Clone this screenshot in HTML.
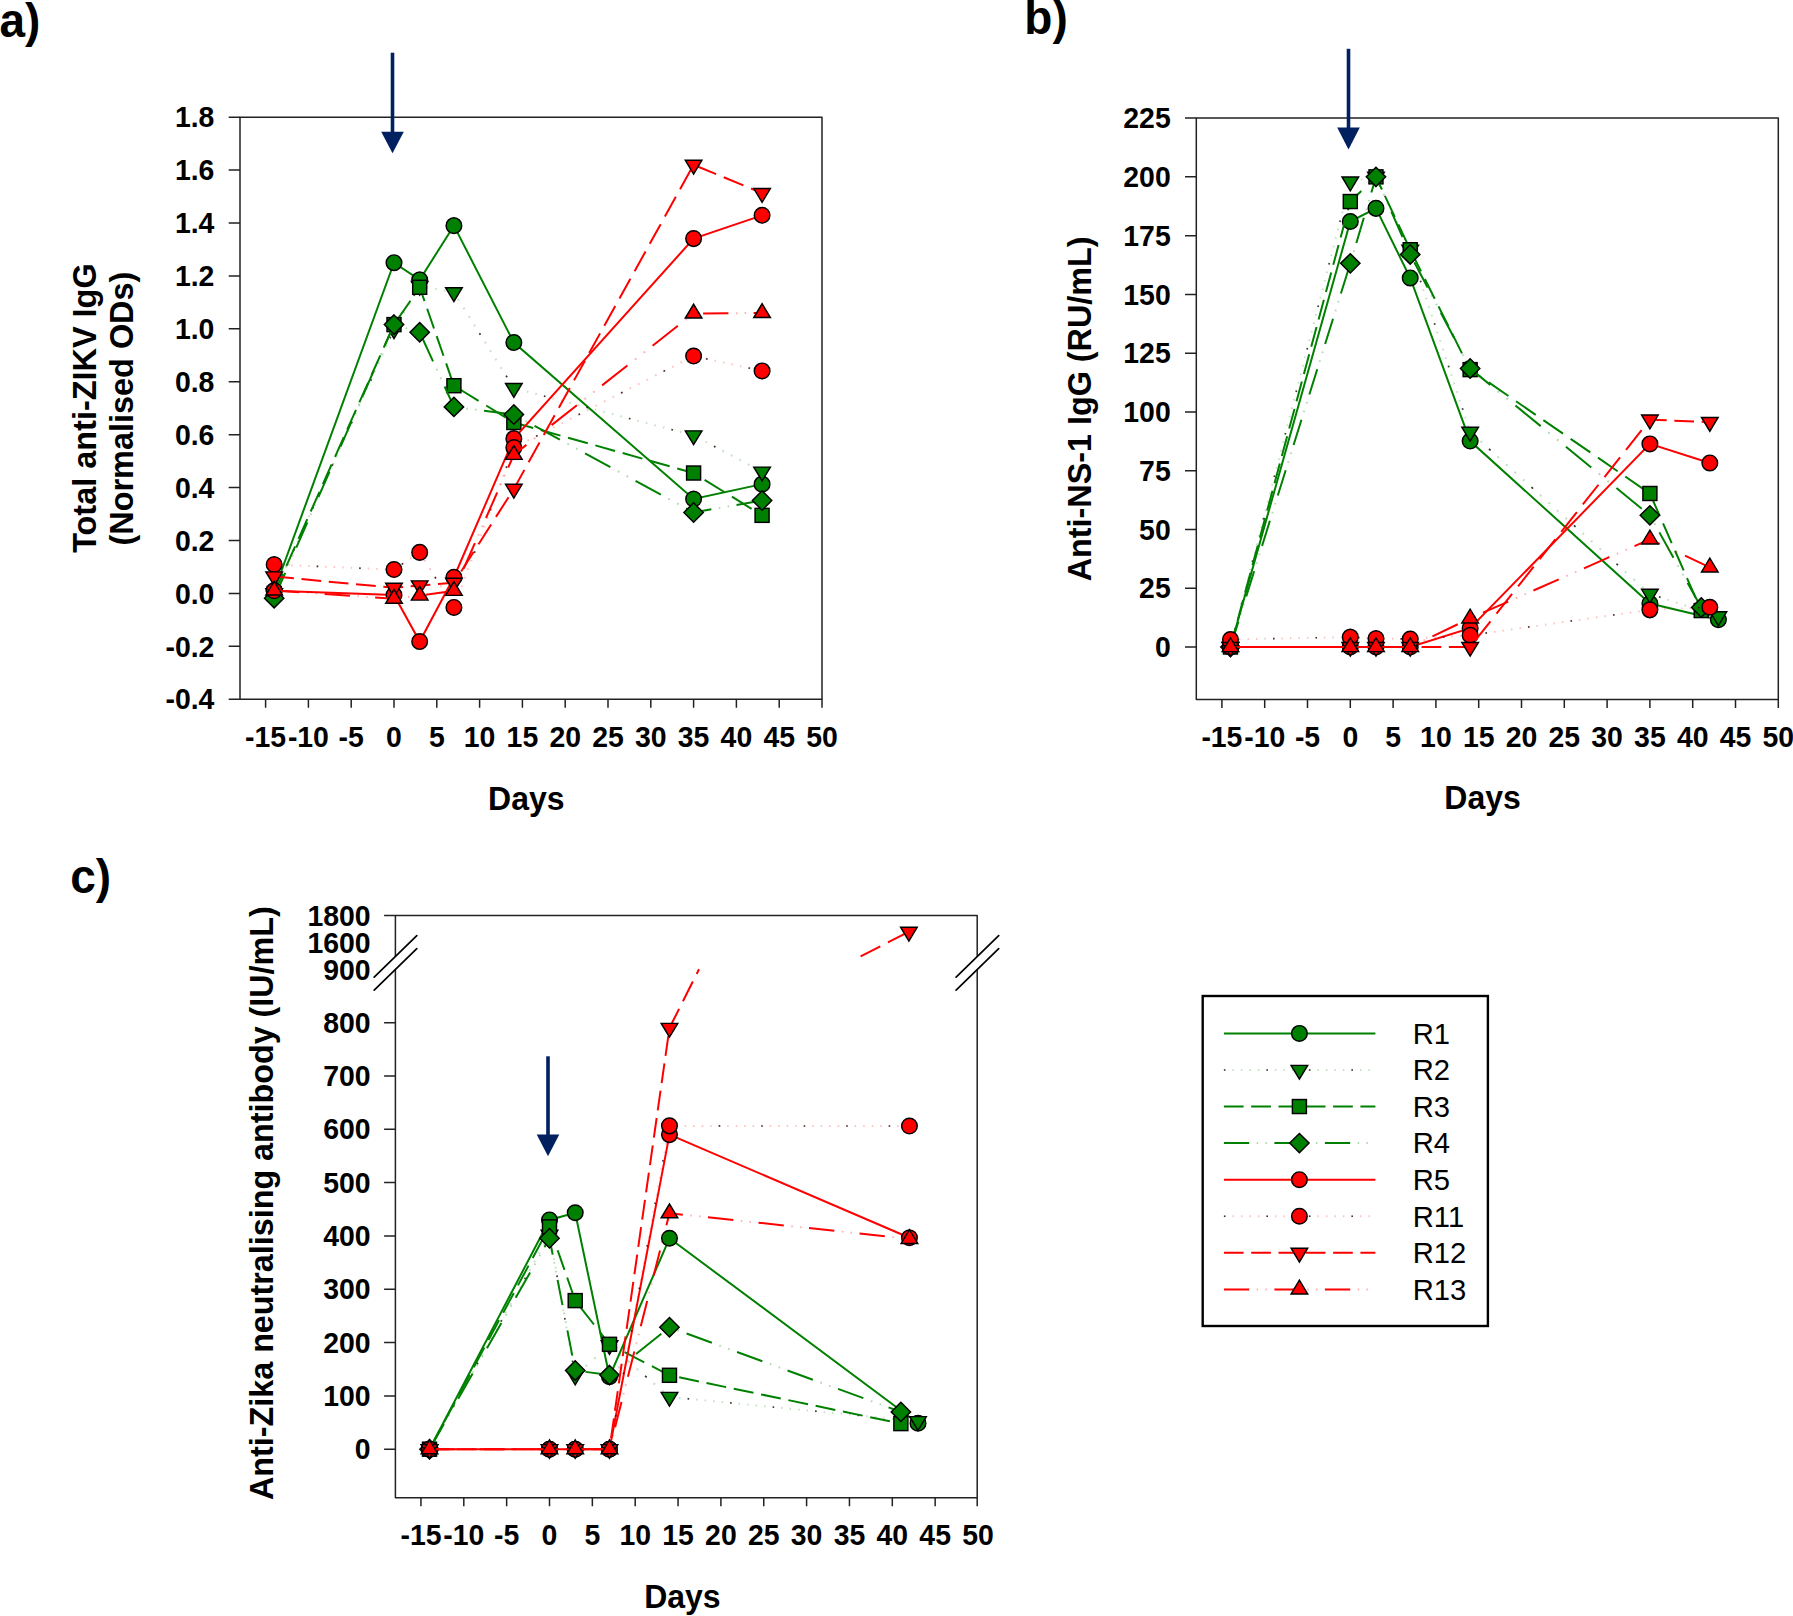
<!DOCTYPE html>
<html lang="en">
<head>
<meta charset="utf-8">
<title>Antibody responses: anti-ZIKV IgG, anti-NS-1 IgG and neutralising antibody</title>
<style>
html,body{margin:0;padding:0;background:#fff;}
body{width:1793px;height:1616px;overflow:hidden;}
svg{display:block;}
svg text{font-family:'Liberation Sans', Arial, Helvetica, sans-serif;fill:#000;}
</style>
</head>
<body>
<svg width="1793" height="1616" viewBox="0 0 1793 1616">
<rect width="1793" height="1616" fill="#fff"/>
<!-- panel a -->
<g>
<rect x="240" y="117.2" width="582" height="582.05" fill="none" stroke="#222" stroke-width="1.5" stroke-linejoin="round"/>
<text transform="translate(265.6 746.85) scale(1 1.04)" font-size="28.4" font-weight="bold" text-anchor="middle">-15</text>
<text transform="translate(308.4 746.85) scale(1 1.04)" font-size="28.4" font-weight="bold" text-anchor="middle">-10</text>
<text transform="translate(351.2 746.85) scale(1 1.04)" font-size="28.4" font-weight="bold" text-anchor="middle">-5</text>
<text transform="translate(394 746.85) scale(1 1.04)" font-size="28.4" font-weight="bold" text-anchor="middle">0</text>
<text transform="translate(436.8 746.85) scale(1 1.04)" font-size="28.4" font-weight="bold" text-anchor="middle">5</text>
<text transform="translate(479.6 746.85) scale(1 1.04)" font-size="28.4" font-weight="bold" text-anchor="middle">10</text>
<text transform="translate(522.4 746.85) scale(1 1.04)" font-size="28.4" font-weight="bold" text-anchor="middle">15</text>
<text transform="translate(565.2 746.85) scale(1 1.04)" font-size="28.4" font-weight="bold" text-anchor="middle">20</text>
<text transform="translate(608 746.85) scale(1 1.04)" font-size="28.4" font-weight="bold" text-anchor="middle">25</text>
<text transform="translate(650.8 746.85) scale(1 1.04)" font-size="28.4" font-weight="bold" text-anchor="middle">30</text>
<text transform="translate(693.6 746.85) scale(1 1.04)" font-size="28.4" font-weight="bold" text-anchor="middle">35</text>
<text transform="translate(736.4 746.85) scale(1 1.04)" font-size="28.4" font-weight="bold" text-anchor="middle">40</text>
<text transform="translate(779.2 746.85) scale(1 1.04)" font-size="28.4" font-weight="bold" text-anchor="middle">45</text>
<text transform="translate(822 746.85) scale(1 1.04)" font-size="28.4" font-weight="bold" text-anchor="middle">50</text>
<text transform="translate(214.4 709.43) scale(1 1.04)" font-size="28.4" font-weight="bold" text-anchor="end">-0.4</text>
<text transform="translate(214.4 656.51) scale(1 1.04)" font-size="28.4" font-weight="bold" text-anchor="end">-0.2</text>
<text transform="translate(214.4 603.6) scale(1 1.04)" font-size="28.4" font-weight="bold" text-anchor="end">0.0</text>
<text transform="translate(214.4 550.69) scale(1 1.04)" font-size="28.4" font-weight="bold" text-anchor="end">0.2</text>
<text transform="translate(214.4 497.77) scale(1 1.04)" font-size="28.4" font-weight="bold" text-anchor="end">0.4</text>
<text transform="translate(214.4 444.86) scale(1 1.04)" font-size="28.4" font-weight="bold" text-anchor="end">0.6</text>
<text transform="translate(214.4 391.94) scale(1 1.04)" font-size="28.4" font-weight="bold" text-anchor="end">0.8</text>
<text transform="translate(214.4 339.03) scale(1 1.04)" font-size="28.4" font-weight="bold" text-anchor="end">1.0</text>
<text transform="translate(214.4 286.12) scale(1 1.04)" font-size="28.4" font-weight="bold" text-anchor="end">1.2</text>
<text transform="translate(214.4 233.2) scale(1 1.04)" font-size="28.4" font-weight="bold" text-anchor="end">1.4</text>
<text transform="translate(214.4 180.29) scale(1 1.04)" font-size="28.4" font-weight="bold" text-anchor="end">1.6</text>
<text transform="translate(214.4 127.37) scale(1 1.04)" font-size="28.4" font-weight="bold" text-anchor="end">1.8</text>
<path d="M265.6 699.25V707.75M308.4 699.25V707.75M351.2 699.25V707.75M394 699.25V707.75M436.8 699.25V707.75M479.6 699.25V707.75M522.4 699.25V707.75M565.2 699.25V707.75M608 699.25V707.75M650.8 699.25V707.75M693.6 699.25V707.75M736.4 699.25V707.75M779.2 699.25V707.75M822 699.25V707.75M228.7 699.23H240M228.7 646.31H240M228.7 593.4H240M228.7 540.49H240M228.7 487.57H240M228.7 434.66H240M228.7 381.74H240M228.7 328.83H240M228.7 275.92H240M228.7 223H240M228.7 170.09H240M228.7 117.17H240" fill="none" stroke="#222" stroke-width="1.5"/>
<path d="M274.16 590.75 L394 262.69 L419.68 279.88 L453.92 225.65 L513.84 342.59 L693.6 498.95 L762.08 484.13" fill="none" stroke="#008000" stroke-width="2"/>
<circle cx="274.16" cy="590.75" r="7.8" fill="#008000" stroke="#000" stroke-width="1.45"/>
<circle cx="394" cy="262.69" r="7.8" fill="#008000" stroke="#000" stroke-width="1.45"/>
<circle cx="419.68" cy="279.88" r="7.8" fill="#008000" stroke="#000" stroke-width="1.45"/>
<circle cx="453.92" cy="225.65" r="7.8" fill="#008000" stroke="#000" stroke-width="1.45"/>
<circle cx="513.84" cy="342.59" r="7.8" fill="#008000" stroke="#000" stroke-width="1.45"/>
<circle cx="693.6" cy="498.95" r="7.8" fill="#008000" stroke="#000" stroke-width="1.45"/>
<circle cx="762.08" cy="484.13" r="7.8" fill="#008000" stroke="#000" stroke-width="1.45"/>
<line x1="274.16" y1="593.4" x2="394" y2="329.36" stroke="#008000" stroke-opacity="0.24" stroke-width="2" stroke-dasharray="1.65 7.69" stroke-dashoffset="0"/>
<line x1="274.16" y1="593.4" x2="394" y2="329.36" stroke="#2a1818" stroke-opacity="0.85" stroke-width="1.6" stroke-dasharray="1.76 44.92" stroke-dashoffset="0"/>
<line x1="394" y1="329.36" x2="419.68" y2="285.97" stroke="#008000" stroke-opacity="0.24" stroke-width="2" stroke-dasharray="1.74 8.13" stroke-dashoffset="0.63"/>
<line x1="394" y1="329.36" x2="419.68" y2="285.97" stroke="#2a1818" stroke-opacity="0.85" stroke-width="1.6" stroke-dasharray="1.86 47.53" stroke-dashoffset="10.51"/>
<line x1="419.68" y1="285.97" x2="453.92" y2="292.32" stroke="#008000" stroke-opacity="0.24" stroke-width="2" stroke-dasharray="1.53 7.12" stroke-dashoffset="1.45"/>
<line x1="419.68" y1="285.97" x2="453.92" y2="292.32" stroke="#2a1818" stroke-opacity="0.85" stroke-width="1.6" stroke-dasharray="1.63 41.6" stroke-dashoffset="10.1"/>
<line x1="453.92" y1="292.32" x2="513.84" y2="388.09" stroke="#008000" stroke-opacity="0.24" stroke-width="2" stroke-dasharray="1.77 8.26" stroke-dashoffset="1.97"/>
<line x1="453.92" y1="292.32" x2="513.84" y2="388.09" stroke="#2a1818" stroke-opacity="0.85" stroke-width="1.6" stroke-dasharray="1.89 48.25" stroke-dashoffset="1.97"/>
<line x1="513.84" y1="388.09" x2="693.6" y2="435.45" stroke="#008000" stroke-opacity="0.24" stroke-width="2" stroke-dasharray="1.55 7.24" stroke-dashoffset="4.08"/>
<line x1="513.84" y1="388.09" x2="693.6" y2="435.45" stroke="#2a1818" stroke-opacity="0.85" stroke-width="1.6" stroke-dasharray="1.65 42.3" stroke-dashoffset="12.87"/>
<line x1="693.6" y1="435.45" x2="762.08" y2="471.7" stroke="#008000" stroke-opacity="0.24" stroke-width="2" stroke-dasharray="1.7 7.92" stroke-dashoffset="5.89"/>
<line x1="693.6" y1="435.45" x2="762.08" y2="471.7" stroke="#2a1818" stroke-opacity="0.85" stroke-width="1.6" stroke-dasharray="1.81 46.28" stroke-dashoffset="25.12"/>
<path d="M265.86 588.8L282.46 588.8L274.16 602.6Z" fill="#008000" stroke="#000" stroke-width="1.45"/>
<path d="M385.7 324.76L402.3 324.76L394 338.56Z" fill="#008000" stroke="#000" stroke-width="1.45"/>
<path d="M411.38 281.37L427.98 281.37L419.68 295.17Z" fill="#008000" stroke="#000" stroke-width="1.45"/>
<path d="M445.62 287.72L462.22 287.72L453.92 301.52Z" fill="#008000" stroke="#000" stroke-width="1.45"/>
<path d="M505.54 383.49L522.14 383.49L513.84 397.29Z" fill="#008000" stroke="#000" stroke-width="1.45"/>
<path d="M685.3 430.85L701.9 430.85L693.6 444.65Z" fill="#008000" stroke="#000" stroke-width="1.45"/>
<path d="M753.78 467.1L770.38 467.1L762.08 480.9Z" fill="#008000" stroke="#000" stroke-width="1.45"/>
<line x1="274.16" y1="593.4" x2="394" y2="324.6" stroke="#008000" stroke-width="2" stroke-dasharray="21.57 8.32" stroke-dashoffset="0"/>
<line x1="394" y1="324.6" x2="419.68" y2="287.29" stroke="#008000" stroke-width="2" stroke-dasharray="23.92 9.23" stroke-dashoffset="28.05"/>
<line x1="419.68" y1="287.29" x2="453.92" y2="385.71" stroke="#008000" stroke-width="2" stroke-dasharray="20.86 8.05" stroke-dashoffset="6.15"/>
<line x1="453.92" y1="385.71" x2="513.84" y2="422.49" stroke="#008000" stroke-width="2" stroke-dasharray="23.11 8.92" stroke-dashoffset="26.2"/>
<line x1="513.84" y1="422.49" x2="693.6" y2="473.02" stroke="#008000" stroke-width="2" stroke-dasharray="20.46 7.89" stroke-dashoffset="0.36"/>
<line x1="693.6" y1="473.02" x2="762.08" y2="515.35" stroke="#008000" stroke-width="2" stroke-dasharray="23.16 8.93" stroke-dashoffset="19.17"/>
<rect x="267.16" y="586.4" width="14" height="14" fill="#008000" stroke="#000" stroke-width="1.45"/>
<rect x="387" y="317.6" width="14" height="14" fill="#008000" stroke="#000" stroke-width="1.45"/>
<rect x="412.68" y="280.29" width="14" height="14" fill="#008000" stroke="#000" stroke-width="1.45"/>
<rect x="446.92" y="378.71" width="14" height="14" fill="#008000" stroke="#000" stroke-width="1.45"/>
<rect x="506.84" y="415.49" width="14" height="14" fill="#008000" stroke="#000" stroke-width="1.45"/>
<rect x="686.6" y="466.02" width="14" height="14" fill="#008000" stroke="#000" stroke-width="1.45"/>
<rect x="755.08" y="508.35" width="14" height="14" fill="#008000" stroke="#000" stroke-width="1.45"/>
<line x1="274.16" y1="598.16" x2="394" y2="324.6" stroke="#008000" stroke-width="2" stroke-dasharray="27.62 27.51" stroke-dashoffset="0"/>
<line x1="274.16" y1="598.16" x2="394" y2="324.6" stroke="#008000" stroke-opacity="0.3" stroke-width="2" stroke-dasharray="0 35.81 1.64 7.86 1.64 8.19" stroke-dashoffset="0"/>
<line x1="394" y1="324.6" x2="419.68" y2="332.27" stroke="#008000" stroke-width="2" stroke-dasharray="26.41 26.3" stroke-dashoffset="21.99"/>
<line x1="394" y1="324.6" x2="419.68" y2="332.27" stroke="#008000" stroke-opacity="0.3" stroke-width="2" stroke-dasharray="0 34.23 1.57 7.51 1.57 7.83" stroke-dashoffset="21.99"/>
<line x1="419.68" y1="332.27" x2="453.92" y2="406.88" stroke="#008000" stroke-width="2" stroke-dasharray="27.84 27.73" stroke-dashoffset="51.43"/>
<line x1="419.68" y1="332.27" x2="453.92" y2="406.88" stroke="#008000" stroke-opacity="0.3" stroke-width="2" stroke-dasharray="0 36.09 1.65 7.92 1.65 8.25" stroke-dashoffset="51.43"/>
<line x1="453.92" y1="406.88" x2="513.84" y2="414.55" stroke="#008000" stroke-width="2" stroke-dasharray="25.51 25.41" stroke-dashoffset="20.52"/>
<line x1="453.92" y1="406.88" x2="513.84" y2="414.55" stroke="#008000" stroke-opacity="0.3" stroke-width="2" stroke-dasharray="0 33.07 1.51 7.26 1.51 7.56" stroke-dashoffset="20.52"/>
<line x1="513.84" y1="414.55" x2="693.6" y2="512.44" stroke="#008000" stroke-width="2" stroke-dasharray="28.81 28.69" stroke-dashoffset="33.9"/>
<line x1="513.84" y1="414.55" x2="693.6" y2="512.44" stroke="#008000" stroke-opacity="0.3" stroke-width="2" stroke-dasharray="0 37.35 1.71 8.2 1.71 8.54" stroke-dashoffset="33.9"/>
<line x1="693.6" y1="512.44" x2="762.08" y2="500.54" stroke="#008000" stroke-width="2" stroke-dasharray="25.68 25.58" stroke-dashoffset="7.65"/>
<line x1="693.6" y1="512.44" x2="762.08" y2="500.54" stroke="#008000" stroke-opacity="0.3" stroke-width="2" stroke-dasharray="0 33.29 1.52 7.31 1.52 7.61" stroke-dashoffset="7.65"/>
<path d="M274.16 588.46L283.86 598.16L274.16 607.86L264.46 598.16Z" fill="#008000" stroke="#000" stroke-width="1.45"/>
<path d="M394 314.9L403.7 324.6L394 334.3L384.3 324.6Z" fill="#008000" stroke="#000" stroke-width="1.45"/>
<path d="M419.68 322.57L429.38 332.27L419.68 341.97L409.98 332.27Z" fill="#008000" stroke="#000" stroke-width="1.45"/>
<path d="M453.92 397.18L463.62 406.88L453.92 416.58L444.22 406.88Z" fill="#008000" stroke="#000" stroke-width="1.45"/>
<path d="M513.84 404.85L523.54 414.55L513.84 424.25L504.14 414.55Z" fill="#008000" stroke="#000" stroke-width="1.45"/>
<path d="M693.6 502.74L703.3 512.44L693.6 522.14L683.9 512.44Z" fill="#008000" stroke="#000" stroke-width="1.45"/>
<path d="M762.08 490.84L771.78 500.54L762.08 510.24L752.38 500.54Z" fill="#008000" stroke="#000" stroke-width="1.45"/>
<path d="M274.16 590.75 L394 594.99 L419.68 641.55 L453.92 577.26 L513.84 438.63 L693.6 238.61 L762.08 215.33" fill="none" stroke="#ff0000" stroke-width="2"/>
<circle cx="274.16" cy="590.75" r="7.8" fill="#ff0000" stroke="#000" stroke-width="1.45"/>
<circle cx="394" cy="594.99" r="7.8" fill="#ff0000" stroke="#000" stroke-width="1.45"/>
<circle cx="419.68" cy="641.55" r="7.8" fill="#ff0000" stroke="#000" stroke-width="1.45"/>
<circle cx="453.92" cy="577.26" r="7.8" fill="#ff0000" stroke="#000" stroke-width="1.45"/>
<circle cx="513.84" cy="438.63" r="7.8" fill="#ff0000" stroke="#000" stroke-width="1.45"/>
<circle cx="693.6" cy="238.61" r="7.8" fill="#ff0000" stroke="#000" stroke-width="1.45"/>
<circle cx="762.08" cy="215.33" r="7.8" fill="#ff0000" stroke="#000" stroke-width="1.45"/>
<line x1="274.16" y1="564.56" x2="394" y2="569.59" stroke="#ff0000" stroke-opacity="0.24" stroke-width="2" stroke-dasharray="1.5 7.01" stroke-dashoffset="0"/>
<line x1="274.16" y1="564.56" x2="394" y2="569.59" stroke="#2a1818" stroke-opacity="0.85" stroke-width="1.6" stroke-dasharray="1.6 40.94" stroke-dashoffset="0"/>
<line x1="394" y1="569.59" x2="419.68" y2="552.39" stroke="#ff0000" stroke-opacity="0.24" stroke-width="2" stroke-dasharray="1.81 8.42" stroke-dashoffset="1.01"/>
<line x1="394" y1="569.59" x2="419.68" y2="552.39" stroke="#2a1818" stroke-opacity="0.85" stroke-width="1.6" stroke-dasharray="1.93 49.22" stroke-dashoffset="41.93"/>
<line x1="419.68" y1="552.39" x2="453.92" y2="607.42" stroke="#ff0000" stroke-opacity="0.24" stroke-width="2" stroke-dasharray="1.77 8.24" stroke-dashoffset="1.2"/>
<line x1="419.68" y1="552.39" x2="453.92" y2="607.42" stroke="#2a1818" stroke-opacity="0.85" stroke-width="1.6" stroke-dasharray="1.88 48.17" stroke-dashoffset="21.22"/>
<line x1="453.92" y1="607.42" x2="513.84" y2="447.62" stroke="#ff0000" stroke-opacity="0.24" stroke-width="2" stroke-dasharray="1.6 7.48" stroke-dashoffset="5.39"/>
<line x1="453.92" y1="607.42" x2="513.84" y2="447.62" stroke="#2a1818" stroke-opacity="0.85" stroke-width="1.6" stroke-dasharray="1.71 43.68" stroke-dashoffset="32.63"/>
<line x1="513.84" y1="447.62" x2="693.6" y2="356.08" stroke="#ff0000" stroke-opacity="0.24" stroke-width="2" stroke-dasharray="1.68 7.86" stroke-dashoffset="3.76"/>
<line x1="513.84" y1="447.62" x2="693.6" y2="356.08" stroke="#2a1818" stroke-opacity="0.85" stroke-width="1.6" stroke-dasharray="1.8 45.9" stroke-dashoffset="22.84"/>
<line x1="693.6" y1="356.08" x2="762.08" y2="370.9" stroke="#ff0000" stroke-opacity="0.24" stroke-width="2" stroke-dasharray="1.53 7.16" stroke-dashoffset="4.72"/>
<line x1="693.6" y1="356.08" x2="762.08" y2="370.9" stroke="#2a1818" stroke-opacity="0.85" stroke-width="1.6" stroke-dasharray="1.64 41.85" stroke-dashoffset="30.81"/>
<circle cx="274.16" cy="564.56" r="7.8" fill="#ff0000" stroke="#000" stroke-width="1.45"/>
<circle cx="394" cy="569.59" r="7.8" fill="#ff0000" stroke="#000" stroke-width="1.45"/>
<circle cx="419.68" cy="552.39" r="7.8" fill="#ff0000" stroke="#000" stroke-width="1.45"/>
<circle cx="453.92" cy="607.42" r="7.8" fill="#ff0000" stroke="#000" stroke-width="1.45"/>
<circle cx="513.84" cy="447.62" r="7.8" fill="#ff0000" stroke="#000" stroke-width="1.45"/>
<circle cx="693.6" cy="356.08" r="7.8" fill="#ff0000" stroke="#000" stroke-width="1.45"/>
<circle cx="762.08" cy="370.9" r="7.8" fill="#ff0000" stroke="#000" stroke-width="1.45"/>
<line x1="274.16" y1="576.47" x2="394" y2="587.84" stroke="#ff0000" stroke-width="2" stroke-dasharray="19.79 7.63" stroke-dashoffset="0"/>
<line x1="394" y1="587.84" x2="419.68" y2="585.46" stroke="#ff0000" stroke-width="2" stroke-dasharray="19.78 7.63" stroke-dashoffset="10.69"/>
<line x1="419.68" y1="585.46" x2="453.92" y2="582.82" stroke="#ff0000" stroke-width="2" stroke-dasharray="19.76 7.62" stroke-dashoffset="9.05"/>
<line x1="453.92" y1="582.82" x2="513.84" y2="488.89" stroke="#ff0000" stroke-width="2" stroke-dasharray="23.37 9.01" stroke-dashoffset="18.93"/>
<line x1="513.84" y1="488.89" x2="693.6" y2="164.8" stroke="#ff0000" stroke-width="2" stroke-dasharray="22.53 8.69" stroke-dashoffset="0.78"/>
<line x1="693.6" y1="164.8" x2="762.08" y2="193.11" stroke="#ff0000" stroke-width="2" stroke-dasharray="21.32 8.22" stroke-dashoffset="26.49"/>
<path d="M265.86 571.87L282.46 571.87L274.16 585.67Z" fill="#ff0000" stroke="#000" stroke-width="1.45"/>
<path d="M385.7 583.24L402.3 583.24L394 597.04Z" fill="#ff0000" stroke="#000" stroke-width="1.45"/>
<path d="M411.38 580.86L427.98 580.86L419.68 594.66Z" fill="#ff0000" stroke="#000" stroke-width="1.45"/>
<path d="M445.62 578.22L462.22 578.22L453.92 592.02Z" fill="#ff0000" stroke="#000" stroke-width="1.45"/>
<path d="M505.54 484.29L522.14 484.29L513.84 498.09Z" fill="#ff0000" stroke="#000" stroke-width="1.45"/>
<path d="M685.3 160.2L701.9 160.2L693.6 174Z" fill="#ff0000" stroke="#000" stroke-width="1.45"/>
<path d="M753.78 188.51L770.38 188.51L762.08 202.31Z" fill="#ff0000" stroke="#000" stroke-width="1.45"/>
<line x1="274.16" y1="590.49" x2="394" y2="598.69" stroke="#ff0000" stroke-width="2" stroke-dasharray="25.36 25.26" stroke-dashoffset="0"/>
<line x1="274.16" y1="590.49" x2="394" y2="598.69" stroke="#ff0000" stroke-opacity="0.3" stroke-width="2" stroke-dasharray="0 32.88 1.5 7.22 1.5 7.52" stroke-dashoffset="0"/>
<line x1="394" y1="598.69" x2="419.68" y2="595.52" stroke="#ff0000" stroke-width="2" stroke-dasharray="25.49 25.39" stroke-dashoffset="18.98"/>
<line x1="394" y1="598.69" x2="419.68" y2="595.52" stroke="#ff0000" stroke-opacity="0.3" stroke-width="2" stroke-dasharray="0 33.05 1.51 7.25 1.51 7.56" stroke-dashoffset="18.98"/>
<line x1="419.68" y1="595.52" x2="453.92" y2="590.75" stroke="#ff0000" stroke-width="2" stroke-dasharray="25.54 25.44" stroke-dashoffset="44.95"/>
<line x1="419.68" y1="595.52" x2="453.92" y2="590.75" stroke="#ff0000" stroke-opacity="0.3" stroke-width="2" stroke-dasharray="0 33.12 1.51 7.27 1.51 7.57" stroke-dashoffset="44.95"/>
<line x1="453.92" y1="590.75" x2="513.84" y2="454.77" stroke="#ff0000" stroke-width="2" stroke-dasharray="27.65 27.54" stroke-dashoffset="30.88"/>
<line x1="453.92" y1="590.75" x2="513.84" y2="454.77" stroke="#ff0000" stroke-opacity="0.3" stroke-width="2" stroke-dasharray="0 35.84 1.64 7.87 1.64 8.2" stroke-dashoffset="30.88"/>
<line x1="513.84" y1="454.77" x2="693.6" y2="313.48" stroke="#ff0000" stroke-width="2" stroke-dasharray="32.18 32.05" stroke-dashoffset="16.22"/>
<line x1="513.84" y1="454.77" x2="693.6" y2="313.48" stroke="#ff0000" stroke-opacity="0.3" stroke-width="2" stroke-dasharray="0 41.72 1.91 9.16 1.91 9.54" stroke-dashoffset="16.22"/>
<line x1="693.6" y1="313.48" x2="762.08" y2="312.96" stroke="#ff0000" stroke-width="2" stroke-dasharray="25.3 25.2" stroke-dashoffset="41.01"/>
<line x1="693.6" y1="313.48" x2="762.08" y2="312.96" stroke="#ff0000" stroke-opacity="0.3" stroke-width="2" stroke-dasharray="0 32.8 1.5 7.2 1.5 7.5" stroke-dashoffset="41.01"/>
<path d="M265.86 595.09L282.46 595.09L274.16 581.29Z" fill="#ff0000" stroke="#000" stroke-width="1.45"/>
<path d="M385.7 603.29L402.3 603.29L394 589.49Z" fill="#ff0000" stroke="#000" stroke-width="1.45"/>
<path d="M411.38 600.12L427.98 600.12L419.68 586.32Z" fill="#ff0000" stroke="#000" stroke-width="1.45"/>
<path d="M445.62 595.35L462.22 595.35L453.92 581.55Z" fill="#ff0000" stroke="#000" stroke-width="1.45"/>
<path d="M505.54 459.37L522.14 459.37L513.84 445.57Z" fill="#ff0000" stroke="#000" stroke-width="1.45"/>
<path d="M685.3 318.08L701.9 318.08L693.6 304.28Z" fill="#ff0000" stroke="#000" stroke-width="1.45"/>
<path d="M753.78 317.56L770.38 317.56L762.08 303.76Z" fill="#ff0000" stroke="#000" stroke-width="1.45"/>
<rect x="390.7" y="52.7" width="3.6" height="80" fill="#002060"/><path d="M381.2 131.7L403.8 131.7L392.5 153.2Z" fill="#002060"/>
<text transform="translate(526.3 810) scale(1 1.04)" font-size="32" font-weight="bold" text-anchor="middle">Days</text>
<text transform="translate(95.7 408.1) rotate(-90) scale(1 1.04)" font-size="32.45" font-weight="bold" text-anchor="middle">Total anti-ZIKV IgG</text>
<text transform="translate(133.1 408.6) rotate(-90) scale(1 1.04)" font-size="32.45" font-weight="bold" text-anchor="middle">(Normalised ODs)</text>
<text transform="translate(-0.5 36.7) scale(1 1.04)" font-size="46" font-weight="bold" text-anchor="start">a)</text>
</g>
<!-- panel b -->
<g>
<rect x="1196.3" y="118.1" width="582" height="581.5" fill="none" stroke="#222" stroke-width="1.5" stroke-linejoin="round"/>
<text transform="translate(1221.9 747.2) scale(1 1.04)" font-size="28.4" font-weight="bold" text-anchor="middle">-15</text>
<text transform="translate(1264.7 747.2) scale(1 1.04)" font-size="28.4" font-weight="bold" text-anchor="middle">-10</text>
<text transform="translate(1307.5 747.2) scale(1 1.04)" font-size="28.4" font-weight="bold" text-anchor="middle">-5</text>
<text transform="translate(1350.3 747.2) scale(1 1.04)" font-size="28.4" font-weight="bold" text-anchor="middle">0</text>
<text transform="translate(1393.1 747.2) scale(1 1.04)" font-size="28.4" font-weight="bold" text-anchor="middle">5</text>
<text transform="translate(1435.9 747.2) scale(1 1.04)" font-size="28.4" font-weight="bold" text-anchor="middle">10</text>
<text transform="translate(1478.7 747.2) scale(1 1.04)" font-size="28.4" font-weight="bold" text-anchor="middle">15</text>
<text transform="translate(1521.5 747.2) scale(1 1.04)" font-size="28.4" font-weight="bold" text-anchor="middle">20</text>
<text transform="translate(1564.3 747.2) scale(1 1.04)" font-size="28.4" font-weight="bold" text-anchor="middle">25</text>
<text transform="translate(1607.1 747.2) scale(1 1.04)" font-size="28.4" font-weight="bold" text-anchor="middle">30</text>
<text transform="translate(1649.9 747.2) scale(1 1.04)" font-size="28.4" font-weight="bold" text-anchor="middle">35</text>
<text transform="translate(1692.7 747.2) scale(1 1.04)" font-size="28.4" font-weight="bold" text-anchor="middle">40</text>
<text transform="translate(1735.5 747.2) scale(1 1.04)" font-size="28.4" font-weight="bold" text-anchor="middle">45</text>
<text transform="translate(1778.3 747.2) scale(1 1.04)" font-size="28.4" font-weight="bold" text-anchor="middle">50</text>
<text transform="translate(1170.7 657.2) scale(1 1.04)" font-size="28.4" font-weight="bold" text-anchor="end">0</text>
<text transform="translate(1170.7 598.43) scale(1 1.04)" font-size="28.4" font-weight="bold" text-anchor="end">25</text>
<text transform="translate(1170.7 539.67) scale(1 1.04)" font-size="28.4" font-weight="bold" text-anchor="end">50</text>
<text transform="translate(1170.7 480.9) scale(1 1.04)" font-size="28.4" font-weight="bold" text-anchor="end">75</text>
<text transform="translate(1170.7 422.13) scale(1 1.04)" font-size="28.4" font-weight="bold" text-anchor="end">100</text>
<text transform="translate(1170.7 363.36) scale(1 1.04)" font-size="28.4" font-weight="bold" text-anchor="end">125</text>
<text transform="translate(1170.7 304.6) scale(1 1.04)" font-size="28.4" font-weight="bold" text-anchor="end">150</text>
<text transform="translate(1170.7 245.83) scale(1 1.04)" font-size="28.4" font-weight="bold" text-anchor="end">175</text>
<text transform="translate(1170.7 187.06) scale(1 1.04)" font-size="28.4" font-weight="bold" text-anchor="end">200</text>
<text transform="translate(1170.7 128.29) scale(1 1.04)" font-size="28.4" font-weight="bold" text-anchor="end">225</text>
<path d="M1221.9 699.6V708.1M1264.7 699.6V708.1M1307.5 699.6V708.1M1350.3 699.6V708.1M1393.1 699.6V708.1M1435.9 699.6V708.1M1478.7 699.6V708.1M1521.5 699.6V708.1M1564.3 699.6V708.1M1607.1 699.6V708.1M1649.9 699.6V708.1M1692.7 699.6V708.1M1735.5 699.6V708.1M1778.3 699.6V708.1M1185 647H1196.3M1185 588.23H1196.3M1185 529.47H1196.3M1185 470.7H1196.3M1185 411.93H1196.3M1185 353.16H1196.3M1185 294.4H1196.3M1185 235.63H1196.3M1185 176.86H1196.3M1185 118.09H1196.3" fill="none" stroke="#222" stroke-width="1.5"/>
<path d="M1230.46 647 L1350.3 221.52 L1375.98 208.36 L1410.22 277.94 L1470.14 441.08 L1649.9 603.51 L1718.38 619.73" fill="none" stroke="#008000" stroke-width="2"/>
<circle cx="1230.46" cy="647" r="7.8" fill="#008000" stroke="#000" stroke-width="1.45"/>
<circle cx="1350.3" cy="221.52" r="7.8" fill="#008000" stroke="#000" stroke-width="1.45"/>
<circle cx="1375.98" cy="208.36" r="7.8" fill="#008000" stroke="#000" stroke-width="1.45"/>
<circle cx="1410.22" cy="277.94" r="7.8" fill="#008000" stroke="#000" stroke-width="1.45"/>
<circle cx="1470.14" cy="441.08" r="7.8" fill="#008000" stroke="#000" stroke-width="1.45"/>
<circle cx="1649.9" cy="603.51" r="7.8" fill="#008000" stroke="#000" stroke-width="1.45"/>
<circle cx="1718.38" cy="619.73" r="7.8" fill="#008000" stroke="#000" stroke-width="1.45"/>
<line x1="1230.46" y1="647" x2="1350.3" y2="181.56" stroke="#008000" stroke-opacity="0.24" stroke-width="2" stroke-dasharray="1.55 7.23" stroke-dashoffset="0"/>
<line x1="1230.46" y1="647" x2="1350.3" y2="181.56" stroke="#2a1818" stroke-opacity="0.85" stroke-width="1.6" stroke-dasharray="1.65 42.23" stroke-dashoffset="0"/>
<line x1="1350.3" y1="181.56" x2="1375.98" y2="176.86" stroke="#008000" stroke-opacity="0.24" stroke-width="2" stroke-dasharray="1.52 7.12" stroke-dashoffset="6.55"/>
<line x1="1350.3" y1="181.56" x2="1375.98" y2="176.86" stroke="#2a1818" stroke-opacity="0.85" stroke-width="1.6" stroke-dasharray="1.63 41.58" stroke-dashoffset="41.11"/>
<line x1="1375.98" y1="176.86" x2="1410.22" y2="249.73" stroke="#008000" stroke-opacity="0.24" stroke-width="2" stroke-dasharray="1.66 7.73" stroke-dashoffset="7.31"/>
<line x1="1375.98" y1="176.86" x2="1410.22" y2="249.73" stroke="#2a1818" stroke-opacity="0.85" stroke-width="1.6" stroke-dasharray="1.77 45.19" stroke-dashoffset="26.1"/>
<line x1="1410.22" y1="249.73" x2="1470.14" y2="431.91" stroke="#008000" stroke-opacity="0.24" stroke-width="2" stroke-dasharray="1.58 7.37" stroke-dashoffset="3.15"/>
<line x1="1410.22" y1="249.73" x2="1470.14" y2="431.91" stroke="#2a1818" stroke-opacity="0.85" stroke-width="1.6" stroke-dasharray="1.68 43.06" stroke-dashoffset="12.1"/>
<line x1="1470.14" y1="431.91" x2="1649.9" y2="593.87" stroke="#008000" stroke-opacity="0.24" stroke-width="2" stroke-dasharray="2.02 9.42" stroke-dashoffset="8.98"/>
<line x1="1470.14" y1="431.91" x2="1649.9" y2="593.87" stroke="#2a1818" stroke-opacity="0.85" stroke-width="1.6" stroke-dasharray="2.15 55.05" stroke-dashoffset="31.86"/>
<line x1="1649.9" y1="593.87" x2="1718.38" y2="616.44" stroke="#008000" stroke-opacity="0.24" stroke-width="2" stroke-dasharray="1.58 7.37" stroke-dashoffset="8.35"/>
<line x1="1649.9" y1="593.87" x2="1718.38" y2="616.44" stroke="#2a1818" stroke-opacity="0.85" stroke-width="1.6" stroke-dasharray="1.68 43.06" stroke-dashoffset="35.2"/>
<path d="M1222.16 642.4L1238.76 642.4L1230.46 656.2Z" fill="#008000" stroke="#000" stroke-width="1.45"/>
<path d="M1342 176.96L1358.6 176.96L1350.3 190.76Z" fill="#008000" stroke="#000" stroke-width="1.45"/>
<path d="M1367.68 172.26L1384.28 172.26L1375.98 186.06Z" fill="#008000" stroke="#000" stroke-width="1.45"/>
<path d="M1401.92 245.13L1418.52 245.13L1410.22 258.93Z" fill="#008000" stroke="#000" stroke-width="1.45"/>
<path d="M1461.84 427.31L1478.44 427.31L1470.14 441.11Z" fill="#008000" stroke="#000" stroke-width="1.45"/>
<path d="M1641.6 589.27L1658.2 589.27L1649.9 603.07Z" fill="#008000" stroke="#000" stroke-width="1.45"/>
<path d="M1710.08 611.84L1726.68 611.84L1718.38 625.64Z" fill="#008000" stroke="#000" stroke-width="1.45"/>
<line x1="1230.46" y1="647" x2="1350.3" y2="201.54" stroke="#008000" stroke-width="2" stroke-dasharray="20.4 7.87" stroke-dashoffset="0"/>
<line x1="1350.3" y1="201.54" x2="1375.98" y2="176.86" stroke="#008000" stroke-width="2" stroke-dasharray="27.32 10.54" stroke-dashoffset="12.01"/>
<line x1="1375.98" y1="176.86" x2="1410.22" y2="249.73" stroke="#008000" stroke-width="2" stroke-dasharray="21.77 8.4" stroke-dashoffset="7.78"/>
<line x1="1410.22" y1="249.73" x2="1470.14" y2="369.62" stroke="#008000" stroke-width="2" stroke-dasharray="22.02 8.5" stroke-dashoffset="28.29"/>
<line x1="1470.14" y1="369.62" x2="1649.9" y2="493.5" stroke="#008000" stroke-width="2" stroke-dasharray="23.92 9.23" stroke-dashoffset="10.56"/>
<line x1="1649.9" y1="493.5" x2="1701.26" y2="610.56" stroke="#008000" stroke-width="2" stroke-dasharray="21.51 8.3" stroke-dashoffset="26.92"/>
<rect x="1223.46" y="640" width="14" height="14" fill="#008000" stroke="#000" stroke-width="1.45"/>
<rect x="1343.3" y="194.54" width="14" height="14" fill="#008000" stroke="#000" stroke-width="1.45"/>
<rect x="1368.98" y="169.86" width="14" height="14" fill="#008000" stroke="#000" stroke-width="1.45"/>
<rect x="1403.22" y="242.73" width="14" height="14" fill="#008000" stroke="#000" stroke-width="1.45"/>
<rect x="1463.14" y="362.62" width="14" height="14" fill="#008000" stroke="#000" stroke-width="1.45"/>
<rect x="1642.9" y="486.5" width="14" height="14" fill="#008000" stroke="#000" stroke-width="1.45"/>
<rect x="1694.26" y="603.56" width="14" height="14" fill="#008000" stroke="#000" stroke-width="1.45"/>
<line x1="1230.46" y1="647" x2="1350.3" y2="263.37" stroke="#008000" stroke-width="2" stroke-dasharray="26.51 26.4" stroke-dashoffset="0"/>
<line x1="1230.46" y1="647" x2="1350.3" y2="263.37" stroke="#008000" stroke-opacity="0.3" stroke-width="2" stroke-dasharray="0 34.36 1.57 7.54 1.57 7.86" stroke-dashoffset="0"/>
<line x1="1350.3" y1="263.37" x2="1375.98" y2="176.86" stroke="#008000" stroke-width="2" stroke-dasharray="26.39 26.29" stroke-dashoffset="31.43"/>
<line x1="1350.3" y1="263.37" x2="1375.98" y2="176.86" stroke="#008000" stroke-opacity="0.3" stroke-width="2" stroke-dasharray="0 34.21 1.56 7.51 1.56 7.82" stroke-dashoffset="31.43"/>
<line x1="1375.98" y1="176.86" x2="1410.22" y2="254.43" stroke="#008000" stroke-width="2" stroke-dasharray="27.65 27.55" stroke-dashoffset="17.1"/>
<line x1="1375.98" y1="176.86" x2="1410.22" y2="254.43" stroke="#008000" stroke-opacity="0.3" stroke-width="2" stroke-dasharray="0 35.85 1.64 7.87 1.64 8.2" stroke-dashoffset="17.1"/>
<line x1="1410.22" y1="254.43" x2="1470.14" y2="368.44" stroke="#008000" stroke-width="2" stroke-dasharray="28.58 28.47" stroke-dashoffset="48.25"/>
<line x1="1410.22" y1="254.43" x2="1470.14" y2="368.44" stroke="#008000" stroke-opacity="0.3" stroke-width="2" stroke-dasharray="0 37.05 1.69 8.13 1.69 8.47" stroke-dashoffset="48.25"/>
<line x1="1470.14" y1="368.44" x2="1649.9" y2="515.36" stroke="#008000" stroke-width="2" stroke-dasharray="32.68 32.55" stroke-dashoffset="6.74"/>
<line x1="1470.14" y1="368.44" x2="1649.9" y2="515.36" stroke="#008000" stroke-opacity="0.3" stroke-width="2" stroke-dasharray="0 42.36 1.94 9.3 1.94 9.69" stroke-dashoffset="6.74"/>
<line x1="1649.9" y1="515.36" x2="1701.26" y2="607.51" stroke="#008000" stroke-width="2" stroke-dasharray="28.96 28.85" stroke-dashoffset="38.33"/>
<line x1="1649.9" y1="515.36" x2="1701.26" y2="607.51" stroke="#008000" stroke-opacity="0.3" stroke-width="2" stroke-dasharray="0 37.55 1.72 8.24 1.72 8.59" stroke-dashoffset="38.33"/>
<path d="M1230.46 637.3L1240.16 647L1230.46 656.7L1220.76 647Z" fill="#008000" stroke="#000" stroke-width="1.45"/>
<path d="M1350.3 253.67L1360 263.37L1350.3 273.07L1340.6 263.37Z" fill="#008000" stroke="#000" stroke-width="1.45"/>
<path d="M1375.98 167.16L1385.68 176.86L1375.98 186.56L1366.28 176.86Z" fill="#008000" stroke="#000" stroke-width="1.45"/>
<path d="M1410.22 244.73L1419.92 254.43L1410.22 264.13L1400.52 254.43Z" fill="#008000" stroke="#000" stroke-width="1.45"/>
<path d="M1470.14 358.74L1479.84 368.44L1470.14 378.14L1460.44 368.44Z" fill="#008000" stroke="#000" stroke-width="1.45"/>
<path d="M1649.9 505.66L1659.6 515.36L1649.9 525.06L1640.2 515.36Z" fill="#008000" stroke="#000" stroke-width="1.45"/>
<path d="M1701.26 597.81L1710.96 607.51L1701.26 617.21L1691.56 607.51Z" fill="#008000" stroke="#000" stroke-width="1.45"/>
<path d="M1230.46 647 L1350.3 647 L1375.98 647 L1410.22 647 L1470.14 628.19 L1649.9 443.9 L1709.82 462.94" fill="none" stroke="#ff0000" stroke-width="2"/>
<circle cx="1230.46" cy="647" r="7.8" fill="#ff0000" stroke="#000" stroke-width="1.45"/>
<circle cx="1350.3" cy="647" r="7.8" fill="#ff0000" stroke="#000" stroke-width="1.45"/>
<circle cx="1375.98" cy="647" r="7.8" fill="#ff0000" stroke="#000" stroke-width="1.45"/>
<circle cx="1410.22" cy="647" r="7.8" fill="#ff0000" stroke="#000" stroke-width="1.45"/>
<circle cx="1470.14" cy="628.19" r="7.8" fill="#ff0000" stroke="#000" stroke-width="1.45"/>
<circle cx="1649.9" cy="443.9" r="7.8" fill="#ff0000" stroke="#000" stroke-width="1.45"/>
<circle cx="1709.82" cy="462.94" r="7.8" fill="#ff0000" stroke="#000" stroke-width="1.45"/>
<line x1="1230.46" y1="639.48" x2="1350.3" y2="637.13" stroke="#ff0000" stroke-opacity="0.24" stroke-width="2" stroke-dasharray="1.5 7" stroke-dashoffset="0"/>
<line x1="1230.46" y1="639.48" x2="1350.3" y2="637.13" stroke="#2a1818" stroke-opacity="0.85" stroke-width="1.6" stroke-dasharray="1.6 40.91" stroke-dashoffset="0"/>
<line x1="1350.3" y1="637.13" x2="1375.98" y2="638.54" stroke="#ff0000" stroke-opacity="0.24" stroke-width="2" stroke-dasharray="1.5 7.01" stroke-dashoffset="0.84"/>
<line x1="1350.3" y1="637.13" x2="1375.98" y2="638.54" stroke="#2a1818" stroke-opacity="0.85" stroke-width="1.6" stroke-dasharray="1.6 40.96" stroke-dashoffset="34.89"/>
<line x1="1375.98" y1="638.54" x2="1410.22" y2="639.01" stroke="#ff0000" stroke-opacity="0.24" stroke-width="2" stroke-dasharray="1.5 7" stroke-dashoffset="1.02"/>
<line x1="1375.98" y1="638.54" x2="1410.22" y2="639.01" stroke="#2a1818" stroke-opacity="0.85" stroke-width="1.6" stroke-dasharray="1.6 40.9" stroke-dashoffset="18.02"/>
<line x1="1410.22" y1="639.01" x2="1470.14" y2="635.25" stroke="#ff0000" stroke-opacity="0.24" stroke-width="2" stroke-dasharray="1.5 7.01" stroke-dashoffset="1.26"/>
<line x1="1410.22" y1="639.01" x2="1470.14" y2="635.25" stroke="#2a1818" stroke-opacity="0.85" stroke-width="1.6" stroke-dasharray="1.6 40.98" stroke-dashoffset="9.78"/>
<line x1="1470.14" y1="635.25" x2="1649.9" y2="609.86" stroke="#ff0000" stroke-opacity="0.24" stroke-width="2" stroke-dasharray="1.51 7.07" stroke-dashoffset="1.7"/>
<line x1="1470.14" y1="635.25" x2="1649.9" y2="609.86" stroke="#2a1818" stroke-opacity="0.85" stroke-width="1.6" stroke-dasharray="1.62 41.31" stroke-dashoffset="27.45"/>
<line x1="1649.9" y1="609.86" x2="1709.82" y2="607.27" stroke="#ff0000" stroke-opacity="0.24" stroke-width="2" stroke-dasharray="1.5 7.01" stroke-dashoffset="2.94"/>
<line x1="1649.9" y1="609.86" x2="1709.82" y2="607.27" stroke="#2a1818" stroke-opacity="0.85" stroke-width="1.6" stroke-dasharray="1.6 40.94" stroke-dashoffset="36.97"/>
<circle cx="1230.46" cy="639.48" r="7.8" fill="#ff0000" stroke="#000" stroke-width="1.45"/>
<circle cx="1350.3" cy="637.13" r="7.8" fill="#ff0000" stroke="#000" stroke-width="1.45"/>
<circle cx="1375.98" cy="638.54" r="7.8" fill="#ff0000" stroke="#000" stroke-width="1.45"/>
<circle cx="1410.22" cy="639.01" r="7.8" fill="#ff0000" stroke="#000" stroke-width="1.45"/>
<circle cx="1470.14" cy="635.25" r="7.8" fill="#ff0000" stroke="#000" stroke-width="1.45"/>
<circle cx="1649.9" cy="609.86" r="7.8" fill="#ff0000" stroke="#000" stroke-width="1.45"/>
<circle cx="1709.82" cy="607.27" r="7.8" fill="#ff0000" stroke="#000" stroke-width="1.45"/>
<line x1="1230.46" y1="647" x2="1350.3" y2="647" stroke="#ff0000" stroke-width="2" stroke-dasharray="19.7 7.6" stroke-dashoffset="0"/>
<line x1="1350.3" y1="647" x2="1375.98" y2="647" stroke="#ff0000" stroke-width="2" stroke-dasharray="19.7 7.6" stroke-dashoffset="10.64"/>
<line x1="1375.98" y1="647" x2="1410.22" y2="647" stroke="#ff0000" stroke-width="2" stroke-dasharray="19.7 7.6" stroke-dashoffset="9.02"/>
<line x1="1410.22" y1="647" x2="1470.14" y2="647" stroke="#ff0000" stroke-width="2" stroke-dasharray="19.7 7.6" stroke-dashoffset="15.96"/>
<line x1="1470.14" y1="647" x2="1649.9" y2="419.69" stroke="#ff0000" stroke-width="2" stroke-dasharray="25.12 9.69" stroke-dashoffset="27.13"/>
<line x1="1649.9" y1="419.69" x2="1709.82" y2="422.04" stroke="#ff0000" stroke-width="2" stroke-dasharray="19.72 7.61" stroke-dashoffset="2.89"/>
<path d="M1222.16 642.4L1238.76 642.4L1230.46 656.2Z" fill="#ff0000" stroke="#000" stroke-width="1.45"/>
<path d="M1342 642.4L1358.6 642.4L1350.3 656.2Z" fill="#ff0000" stroke="#000" stroke-width="1.45"/>
<path d="M1367.68 642.4L1384.28 642.4L1375.98 656.2Z" fill="#ff0000" stroke="#000" stroke-width="1.45"/>
<path d="M1401.92 642.4L1418.52 642.4L1410.22 656.2Z" fill="#ff0000" stroke="#000" stroke-width="1.45"/>
<path d="M1461.84 642.4L1478.44 642.4L1470.14 656.2Z" fill="#ff0000" stroke="#000" stroke-width="1.45"/>
<path d="M1641.6 415.09L1658.2 415.09L1649.9 428.89Z" fill="#ff0000" stroke="#000" stroke-width="1.45"/>
<path d="M1701.52 417.44L1718.12 417.44L1709.82 431.24Z" fill="#ff0000" stroke="#000" stroke-width="1.45"/>
<line x1="1230.46" y1="647" x2="1350.3" y2="647" stroke="#ff0000" stroke-width="2" stroke-dasharray="25.3 25.2" stroke-dashoffset="0"/>
<line x1="1230.46" y1="647" x2="1350.3" y2="647" stroke="#ff0000" stroke-opacity="0.3" stroke-width="2" stroke-dasharray="0 32.8 1.5 7.2 1.5 7.5" stroke-dashoffset="0"/>
<line x1="1350.3" y1="647" x2="1375.98" y2="647" stroke="#ff0000" stroke-width="2" stroke-dasharray="25.3 25.2" stroke-dashoffset="18.84"/>
<line x1="1350.3" y1="647" x2="1375.98" y2="647" stroke="#ff0000" stroke-opacity="0.3" stroke-width="2" stroke-dasharray="0 32.8 1.5 7.2 1.5 7.5" stroke-dashoffset="18.84"/>
<line x1="1375.98" y1="647" x2="1410.22" y2="647" stroke="#ff0000" stroke-width="2" stroke-dasharray="25.3 25.2" stroke-dashoffset="44.52"/>
<line x1="1375.98" y1="647" x2="1410.22" y2="647" stroke="#ff0000" stroke-opacity="0.3" stroke-width="2" stroke-dasharray="0 32.8 1.5 7.2 1.5 7.5" stroke-dashoffset="44.52"/>
<line x1="1410.22" y1="647" x2="1470.14" y2="618.32" stroke="#ff0000" stroke-width="2" stroke-dasharray="28.05 27.94" stroke-dashoffset="31.33"/>
<line x1="1410.22" y1="647" x2="1470.14" y2="618.32" stroke="#ff0000" stroke-opacity="0.3" stroke-width="2" stroke-dasharray="0 36.36 1.66 7.98 1.66 8.31" stroke-dashoffset="31.33"/>
<line x1="1470.14" y1="618.32" x2="1649.9" y2="539.34" stroke="#ff0000" stroke-width="2" stroke-dasharray="27.63 27.53" stroke-dashoffset="41.16"/>
<line x1="1470.14" y1="618.32" x2="1649.9" y2="539.34" stroke="#ff0000" stroke-opacity="0.3" stroke-width="2" stroke-dasharray="0 35.83 1.64 7.86 1.64 8.19" stroke-dashoffset="41.16"/>
<line x1="1649.9" y1="539.34" x2="1709.82" y2="567.31" stroke="#ff0000" stroke-width="2" stroke-dasharray="27.92 27.81" stroke-dashoffset="17.04"/>
<line x1="1649.9" y1="539.34" x2="1709.82" y2="567.31" stroke="#ff0000" stroke-opacity="0.3" stroke-width="2" stroke-dasharray="0 36.2 1.66 7.95 1.66 8.28" stroke-dashoffset="17.04"/>
<path d="M1222.16 651.6L1238.76 651.6L1230.46 637.8Z" fill="#ff0000" stroke="#000" stroke-width="1.45"/>
<path d="M1342 651.6L1358.6 651.6L1350.3 637.8Z" fill="#ff0000" stroke="#000" stroke-width="1.45"/>
<path d="M1367.68 651.6L1384.28 651.6L1375.98 637.8Z" fill="#ff0000" stroke="#000" stroke-width="1.45"/>
<path d="M1401.92 651.6L1418.52 651.6L1410.22 637.8Z" fill="#ff0000" stroke="#000" stroke-width="1.45"/>
<path d="M1461.84 622.92L1478.44 622.92L1470.14 609.12Z" fill="#ff0000" stroke="#000" stroke-width="1.45"/>
<path d="M1641.6 543.94L1658.2 543.94L1649.9 530.14Z" fill="#ff0000" stroke="#000" stroke-width="1.45"/>
<path d="M1701.52 571.91L1718.12 571.91L1709.82 558.11Z" fill="#ff0000" stroke="#000" stroke-width="1.45"/>
<rect x="1346.7" y="48.8" width="3.6" height="79.7" fill="#002060"/><path d="M1337.2 127.5L1359.8 127.5L1348.5 149.6Z" fill="#002060"/>
<text transform="translate(1482.6 808.8) scale(1 1.04)" font-size="32" font-weight="bold" text-anchor="middle">Days</text>
<text transform="translate(1091 408.9) rotate(-90) scale(1 1.04)" font-size="32.34" font-weight="bold" text-anchor="middle">Anti-NS-1 IgG (RU/mL)</text>
<text transform="translate(1024.3 34.1) scale(1 1.04)" font-size="46" font-weight="bold" text-anchor="start">b)</text>
</g>
<!-- panel c -->
<g>
<path d="M395.4 969.5V1497.8H977.2V969.5M395.4 956.4V915.5H977.2V956.4" fill="none" stroke="#222" stroke-width="1.5" stroke-linejoin="round"/>
<text transform="translate(420.95 1544.7) scale(1 1.04)" font-size="28.4" font-weight="bold" text-anchor="middle">-15</text>
<text transform="translate(463.8 1544.7) scale(1 1.04)" font-size="28.4" font-weight="bold" text-anchor="middle">-10</text>
<text transform="translate(506.65 1544.7) scale(1 1.04)" font-size="28.4" font-weight="bold" text-anchor="middle">-5</text>
<text transform="translate(549.5 1544.7) scale(1 1.04)" font-size="28.4" font-weight="bold" text-anchor="middle">0</text>
<text transform="translate(592.35 1544.7) scale(1 1.04)" font-size="28.4" font-weight="bold" text-anchor="middle">5</text>
<text transform="translate(635.2 1544.7) scale(1 1.04)" font-size="28.4" font-weight="bold" text-anchor="middle">10</text>
<text transform="translate(678.05 1544.7) scale(1 1.04)" font-size="28.4" font-weight="bold" text-anchor="middle">15</text>
<text transform="translate(720.9 1544.7) scale(1 1.04)" font-size="28.4" font-weight="bold" text-anchor="middle">20</text>
<text transform="translate(763.75 1544.7) scale(1 1.04)" font-size="28.4" font-weight="bold" text-anchor="middle">25</text>
<text transform="translate(806.6 1544.7) scale(1 1.04)" font-size="28.4" font-weight="bold" text-anchor="middle">30</text>
<text transform="translate(849.45 1544.7) scale(1 1.04)" font-size="28.4" font-weight="bold" text-anchor="middle">35</text>
<text transform="translate(892.3 1544.7) scale(1 1.04)" font-size="28.4" font-weight="bold" text-anchor="middle">40</text>
<text transform="translate(935.15 1544.7) scale(1 1.04)" font-size="28.4" font-weight="bold" text-anchor="middle">45</text>
<text transform="translate(978 1544.7) scale(1 1.04)" font-size="28.4" font-weight="bold" text-anchor="middle">50</text>
<text transform="translate(370.6 1459.4) scale(1 1.04)" font-size="28.4" font-weight="bold" text-anchor="end">0</text>
<text transform="translate(370.6 1406.08) scale(1 1.04)" font-size="28.4" font-weight="bold" text-anchor="end">100</text>
<text transform="translate(370.6 1352.76) scale(1 1.04)" font-size="28.4" font-weight="bold" text-anchor="end">200</text>
<text transform="translate(370.6 1299.44) scale(1 1.04)" font-size="28.4" font-weight="bold" text-anchor="end">300</text>
<text transform="translate(370.6 1246.12) scale(1 1.04)" font-size="28.4" font-weight="bold" text-anchor="end">400</text>
<text transform="translate(370.6 1192.8) scale(1 1.04)" font-size="28.4" font-weight="bold" text-anchor="end">500</text>
<text transform="translate(370.6 1139.48) scale(1 1.04)" font-size="28.4" font-weight="bold" text-anchor="end">600</text>
<text transform="translate(370.6 1086.16) scale(1 1.04)" font-size="28.4" font-weight="bold" text-anchor="end">700</text>
<text transform="translate(370.6 1032.84) scale(1 1.04)" font-size="28.4" font-weight="bold" text-anchor="end">800</text>
<text transform="translate(370.6 980.1) scale(1 1.04)" font-size="28.4" font-weight="bold" text-anchor="end">900</text>
<text transform="translate(370.6 953.4) scale(1 1.04)" font-size="28.4" font-weight="bold" text-anchor="end">1600</text>
<text transform="translate(370.6 925.7) scale(1 1.04)" font-size="28.4" font-weight="bold" text-anchor="end">1800</text>
<path d="M420.95 1497.8V1506.3M463.8 1497.8V1506.3M506.65 1497.8V1506.3M549.5 1497.8V1506.3M592.35 1497.8V1506.3M635.2 1497.8V1506.3M678.05 1497.8V1506.3M720.9 1497.8V1506.3M763.75 1497.8V1506.3M806.6 1497.8V1506.3M849.45 1497.8V1506.3M892.3 1497.8V1506.3M935.15 1497.8V1506.3M977.2 1497.8V1506.3M384.1 1449.2H395.4M384.1 1395.88H395.4M384.1 1342.56H395.4M384.1 1289.24H395.4M384.1 1235.92H395.4M384.1 1182.6H395.4M384.1 1129.28H395.4M384.1 1075.96H395.4M384.1 1022.64H395.4M384.1 915.5H395.4" fill="none" stroke="#222" stroke-width="1.5"/>
<path d="M374.2 977.2L416.8 935.6M374.2 990.2L416.8 948.6M956.1 977.2L998.7 935.6M956.1 990.2L998.7 948.6" fill="none" stroke="#000" stroke-width="1.7" stroke-linecap="round"/>
<path d="M429.52 1449.2 L549.5 1219.92 L575.21 1212.73 L609.49 1376.68 L669.48 1238.27 L918.01 1423.18" fill="none" stroke="#008000" stroke-width="2"/>
<circle cx="429.52" cy="1449.2" r="7.8" fill="#008000" stroke="#000" stroke-width="1.45"/>
<circle cx="549.5" cy="1219.92" r="7.8" fill="#008000" stroke="#000" stroke-width="1.45"/>
<circle cx="575.21" cy="1212.73" r="7.8" fill="#008000" stroke="#000" stroke-width="1.45"/>
<circle cx="609.49" cy="1376.68" r="7.8" fill="#008000" stroke="#000" stroke-width="1.45"/>
<circle cx="669.48" cy="1238.27" r="7.8" fill="#008000" stroke="#000" stroke-width="1.45"/>
<circle cx="918.01" cy="1423.18" r="7.8" fill="#008000" stroke="#000" stroke-width="1.45"/>
<line x1="429.52" y1="1449.2" x2="549.5" y2="1234.85" stroke="#008000" stroke-opacity="0.24" stroke-width="2" stroke-dasharray="1.72 8.02" stroke-dashoffset="0"/>
<line x1="429.52" y1="1449.2" x2="549.5" y2="1234.85" stroke="#2a1818" stroke-opacity="0.85" stroke-width="1.6" stroke-dasharray="1.83 46.87" stroke-dashoffset="0"/>
<line x1="549.5" y1="1234.85" x2="575.21" y2="1375.62" stroke="#008000" stroke-opacity="0.24" stroke-width="2" stroke-dasharray="1.52 7.12" stroke-dashoffset="1.88"/>
<line x1="549.5" y1="1234.85" x2="575.21" y2="1375.62" stroke="#2a1818" stroke-opacity="0.85" stroke-width="1.6" stroke-dasharray="1.63 41.58" stroke-dashoffset="1.88"/>
<line x1="575.21" y1="1375.62" x2="609.49" y2="1345.23" stroke="#008000" stroke-opacity="0.24" stroke-width="2" stroke-dasharray="2 9.36" stroke-dashoffset="8.84"/>
<line x1="575.21" y1="1375.62" x2="609.49" y2="1345.23" stroke="#2a1818" stroke-opacity="0.85" stroke-width="1.6" stroke-dasharray="2.14 54.66" stroke-dashoffset="20.2"/>
<line x1="609.49" y1="1345.23" x2="669.48" y2="1396.95" stroke="#008000" stroke-opacity="0.24" stroke-width="2" stroke-dasharray="1.98 9.24" stroke-dashoffset="9.1"/>
<line x1="609.49" y1="1345.23" x2="669.48" y2="1396.95" stroke="#2a1818" stroke-opacity="0.85" stroke-width="1.6" stroke-dasharray="2.11 54" stroke-dashoffset="9.1"/>
<line x1="669.48" y1="1396.95" x2="918.01" y2="1421.21" stroke="#008000" stroke-opacity="0.24" stroke-width="2" stroke-dasharray="1.51 7.03" stroke-dashoffset="7.42"/>
<line x1="669.48" y1="1396.95" x2="918.01" y2="1421.21" stroke="#2a1818" stroke-opacity="0.85" stroke-width="1.6" stroke-dasharray="1.61 41.09" stroke-dashoffset="24.5"/>
<path d="M421.22 1444.6L437.82 1444.6L429.52 1458.4Z" fill="#008000" stroke="#000" stroke-width="1.45"/>
<path d="M541.2 1230.25L557.8 1230.25L549.5 1244.05Z" fill="#008000" stroke="#000" stroke-width="1.45"/>
<path d="M566.91 1371.02L583.51 1371.02L575.21 1384.82Z" fill="#008000" stroke="#000" stroke-width="1.45"/>
<path d="M601.19 1340.63L617.79 1340.63L609.49 1354.43Z" fill="#008000" stroke="#000" stroke-width="1.45"/>
<path d="M661.18 1392.35L677.78 1392.35L669.48 1406.15Z" fill="#008000" stroke="#000" stroke-width="1.45"/>
<path d="M909.71 1416.61L926.31 1416.61L918.01 1430.41Z" fill="#008000" stroke="#000" stroke-width="1.45"/>
<line x1="429.52" y1="1449.2" x2="549.5" y2="1226.86" stroke="#008000" stroke-width="2" stroke-dasharray="22.39 8.64" stroke-dashoffset="0"/>
<line x1="549.5" y1="1226.86" x2="575.21" y2="1300.6" stroke="#008000" stroke-width="2" stroke-dasharray="20.86 8.05" stroke-dashoffset="4.18"/>
<line x1="575.21" y1="1300.6" x2="609.49" y2="1344.32" stroke="#008000" stroke-width="2" stroke-dasharray="25.03 9.66" stroke-dashoffset="29.34"/>
<line x1="609.49" y1="1344.32" x2="669.48" y2="1375.3" stroke="#008000" stroke-width="2" stroke-dasharray="22.17 8.55" stroke-dashoffset="13.74"/>
<line x1="669.48" y1="1375.3" x2="900.87" y2="1423.61" stroke="#008000" stroke-width="2" stroke-dasharray="20.12 7.76" stroke-dashoffset="17.98"/>
<rect x="422.52" y="1442.2" width="14" height="14" fill="#008000" stroke="#000" stroke-width="1.45"/>
<rect x="542.5" y="1219.86" width="14" height="14" fill="#008000" stroke="#000" stroke-width="1.45"/>
<rect x="568.21" y="1293.6" width="14" height="14" fill="#008000" stroke="#000" stroke-width="1.45"/>
<rect x="602.49" y="1337.32" width="14" height="14" fill="#008000" stroke="#000" stroke-width="1.45"/>
<rect x="662.48" y="1368.3" width="14" height="14" fill="#008000" stroke="#000" stroke-width="1.45"/>
<rect x="893.87" y="1416.61" width="14" height="14" fill="#008000" stroke="#000" stroke-width="1.45"/>
<line x1="429.52" y1="1449.2" x2="549.5" y2="1238.27" stroke="#008000" stroke-width="2" stroke-dasharray="29.11 28.99" stroke-dashoffset="0"/>
<line x1="429.52" y1="1449.2" x2="549.5" y2="1238.27" stroke="#008000" stroke-opacity="0.3" stroke-width="2" stroke-dasharray="0 37.73 1.73 8.28 1.73 8.63" stroke-dashoffset="0"/>
<line x1="549.5" y1="1238.27" x2="575.21" y2="1370.5" stroke="#008000" stroke-width="2" stroke-dasharray="25.77 25.67" stroke-dashoffset="9.1"/>
<line x1="549.5" y1="1238.27" x2="575.21" y2="1370.5" stroke="#008000" stroke-opacity="0.3" stroke-width="2" stroke-dasharray="0 33.41 1.53 7.33 1.53 7.64" stroke-dashoffset="9.1"/>
<line x1="575.21" y1="1370.5" x2="609.49" y2="1375.09" stroke="#008000" stroke-width="2" stroke-dasharray="25.53 25.42" stroke-dashoffset="40.53"/>
<line x1="575.21" y1="1370.5" x2="609.49" y2="1375.09" stroke="#008000" stroke-opacity="0.3" stroke-width="2" stroke-dasharray="0 33.09 1.51 7.26 1.51 7.57" stroke-dashoffset="40.53"/>
<line x1="609.49" y1="1375.09" x2="669.48" y2="1327.31" stroke="#008000" stroke-width="2" stroke-dasharray="32.34 32.21" stroke-dashoffset="30.61"/>
<line x1="609.49" y1="1375.09" x2="669.48" y2="1327.31" stroke="#008000" stroke-opacity="0.3" stroke-width="2" stroke-dasharray="0 41.93 1.92 9.2 1.92 9.59" stroke-dashoffset="30.61"/>
<line x1="669.48" y1="1327.31" x2="900.87" y2="1411.88" stroke="#008000" stroke-width="2" stroke-dasharray="26.94 26.83" stroke-dashoffset="35.6"/>
<line x1="669.48" y1="1327.31" x2="900.87" y2="1411.88" stroke="#008000" stroke-opacity="0.3" stroke-width="2" stroke-dasharray="0 34.92 1.6 7.67 1.6 7.99" stroke-dashoffset="35.6"/>
<path d="M429.52 1439.5L439.22 1449.2L429.52 1458.9L419.82 1449.2Z" fill="#008000" stroke="#000" stroke-width="1.45"/>
<path d="M549.5 1228.57L559.2 1238.27L549.5 1247.97L539.8 1238.27Z" fill="#008000" stroke="#000" stroke-width="1.45"/>
<path d="M575.21 1360.8L584.91 1370.5L575.21 1380.2L565.51 1370.5Z" fill="#008000" stroke="#000" stroke-width="1.45"/>
<path d="M609.49 1365.39L619.19 1375.09L609.49 1384.79L599.79 1375.09Z" fill="#008000" stroke="#000" stroke-width="1.45"/>
<path d="M669.48 1317.61L679.18 1327.31L669.48 1337.01L659.78 1327.31Z" fill="#008000" stroke="#000" stroke-width="1.45"/>
<path d="M900.87 1402.18L910.57 1411.88L900.87 1421.58L891.17 1411.88Z" fill="#008000" stroke="#000" stroke-width="1.45"/>
<path d="M429.52 1449.2 L549.5 1449.2 L575.21 1449.2 L609.49 1449.2 L669.48 1134.61 L909.44 1237.79" fill="none" stroke="#ff0000" stroke-width="2"/>
<circle cx="429.52" cy="1449.2" r="7.8" fill="#ff0000" stroke="#000" stroke-width="1.45"/>
<circle cx="549.5" cy="1449.2" r="7.8" fill="#ff0000" stroke="#000" stroke-width="1.45"/>
<circle cx="575.21" cy="1449.2" r="7.8" fill="#ff0000" stroke="#000" stroke-width="1.45"/>
<circle cx="609.49" cy="1449.2" r="7.8" fill="#ff0000" stroke="#000" stroke-width="1.45"/>
<circle cx="669.48" cy="1134.61" r="7.8" fill="#ff0000" stroke="#000" stroke-width="1.45"/>
<circle cx="909.44" cy="1237.79" r="7.8" fill="#ff0000" stroke="#000" stroke-width="1.45"/>
<line x1="429.52" y1="1449.2" x2="549.5" y2="1449.2" stroke="#ff0000" stroke-opacity="0.24" stroke-width="2" stroke-dasharray="1.5 7" stroke-dashoffset="0"/>
<line x1="429.52" y1="1449.2" x2="549.5" y2="1449.2" stroke="#2a1818" stroke-opacity="0.85" stroke-width="1.6" stroke-dasharray="1.6 40.9" stroke-dashoffset="0"/>
<line x1="549.5" y1="1449.2" x2="575.21" y2="1449.2" stroke="#ff0000" stroke-opacity="0.24" stroke-width="2" stroke-dasharray="1.5 7" stroke-dashoffset="0.98"/>
<line x1="549.5" y1="1449.2" x2="575.21" y2="1449.2" stroke="#2a1818" stroke-opacity="0.85" stroke-width="1.6" stroke-dasharray="1.6 40.9" stroke-dashoffset="34.98"/>
<line x1="575.21" y1="1449.2" x2="609.49" y2="1449.2" stroke="#ff0000" stroke-opacity="0.24" stroke-width="2" stroke-dasharray="1.5 7" stroke-dashoffset="1.19"/>
<line x1="575.21" y1="1449.2" x2="609.49" y2="1449.2" stroke="#2a1818" stroke-opacity="0.85" stroke-width="1.6" stroke-dasharray="1.6 40.9" stroke-dashoffset="18.19"/>
<line x1="609.49" y1="1449.2" x2="669.48" y2="1125.87" stroke="#ff0000" stroke-opacity="0.24" stroke-width="2" stroke-dasharray="1.53 7.12" stroke-dashoffset="1.5"/>
<line x1="609.49" y1="1449.2" x2="669.48" y2="1125.87" stroke="#2a1818" stroke-opacity="0.85" stroke-width="1.6" stroke-dasharray="1.63 41.6" stroke-dashoffset="10.14"/>
<line x1="669.48" y1="1125.87" x2="909.44" y2="1126.08" stroke="#ff0000" stroke-opacity="0.24" stroke-width="2" stroke-dasharray="1.5 7" stroke-dashoffset="1.8"/>
<line x1="669.48" y1="1125.87" x2="909.44" y2="1126.08" stroke="#2a1818" stroke-opacity="0.85" stroke-width="1.6" stroke-dasharray="1.6 40.9" stroke-dashoffset="35.8"/>
<circle cx="429.52" cy="1449.2" r="7.8" fill="#ff0000" stroke="#000" stroke-width="1.45"/>
<circle cx="549.5" cy="1449.2" r="7.8" fill="#ff0000" stroke="#000" stroke-width="1.45"/>
<circle cx="575.21" cy="1449.2" r="7.8" fill="#ff0000" stroke="#000" stroke-width="1.45"/>
<circle cx="609.49" cy="1449.2" r="7.8" fill="#ff0000" stroke="#000" stroke-width="1.45"/>
<circle cx="669.48" cy="1125.87" r="7.8" fill="#ff0000" stroke="#000" stroke-width="1.45"/>
<circle cx="909.44" cy="1126.08" r="7.8" fill="#ff0000" stroke="#000" stroke-width="1.45"/>
<line x1="429.52" y1="1449.2" x2="549.5" y2="1449.2" stroke="#ff0000" stroke-width="2" stroke-dasharray="19.7 7.6" stroke-dashoffset="0"/>
<line x1="549.5" y1="1449.2" x2="575.21" y2="1449.2" stroke="#ff0000" stroke-width="2" stroke-dasharray="19.7 7.6" stroke-dashoffset="10.78"/>
<line x1="575.21" y1="1449.2" x2="609.49" y2="1449.2" stroke="#ff0000" stroke-width="2" stroke-dasharray="19.7 7.6" stroke-dashoffset="9.19"/>
<line x1="609.49" y1="1449.2" x2="669.48" y2="1027.97" stroke="#ff0000" stroke-width="2" stroke-dasharray="19.9 7.68" stroke-dashoffset="16.33"/>
<line x1="669.48" y1="1027.97" x2="699.01" y2="969.32" stroke="#ff0000" stroke-width="2" stroke-dasharray="22.06 8.51" stroke-dashoffset="0.67"/>
<line x1="860.6" y1="956.3" x2="908.9" y2="931.8" stroke="#ff0000" stroke-width="2" stroke-dasharray="22.09 8.52" stroke-dashoffset="0"/>
<path d="M421.22 1444.6L437.82 1444.6L429.52 1458.4Z" fill="#ff0000" stroke="#000" stroke-width="1.45"/>
<path d="M541.2 1444.6L557.8 1444.6L549.5 1458.4Z" fill="#ff0000" stroke="#000" stroke-width="1.45"/>
<path d="M566.91 1444.6L583.51 1444.6L575.21 1458.4Z" fill="#ff0000" stroke="#000" stroke-width="1.45"/>
<path d="M601.19 1444.6L617.79 1444.6L609.49 1458.4Z" fill="#ff0000" stroke="#000" stroke-width="1.45"/>
<path d="M661.18 1023.37L677.78 1023.37L669.48 1037.17Z" fill="#ff0000" stroke="#000" stroke-width="1.45"/>
<path d="M900.6 927.2L917.2 927.2L908.9 941Z" fill="#ff0000" stroke="#000" stroke-width="1.45"/>
<line x1="429.52" y1="1449.2" x2="549.5" y2="1449.2" stroke="#ff0000" stroke-width="2" stroke-dasharray="25.3 25.2" stroke-dashoffset="0"/>
<line x1="429.52" y1="1449.2" x2="549.5" y2="1449.2" stroke="#ff0000" stroke-opacity="0.3" stroke-width="2" stroke-dasharray="0 32.8 1.5 7.2 1.5 7.5" stroke-dashoffset="0"/>
<line x1="549.5" y1="1449.2" x2="575.21" y2="1449.2" stroke="#ff0000" stroke-width="2" stroke-dasharray="25.3 25.2" stroke-dashoffset="18.98"/>
<line x1="549.5" y1="1449.2" x2="575.21" y2="1449.2" stroke="#ff0000" stroke-opacity="0.3" stroke-width="2" stroke-dasharray="0 32.8 1.5 7.2 1.5 7.5" stroke-dashoffset="18.98"/>
<line x1="575.21" y1="1449.2" x2="609.49" y2="1449.2" stroke="#ff0000" stroke-width="2" stroke-dasharray="25.3 25.2" stroke-dashoffset="44.69"/>
<line x1="575.21" y1="1449.2" x2="609.49" y2="1449.2" stroke="#ff0000" stroke-opacity="0.3" stroke-width="2" stroke-dasharray="0 32.8 1.5 7.2 1.5 7.5" stroke-dashoffset="44.69"/>
<line x1="609.49" y1="1449.2" x2="669.48" y2="1213.21" stroke="#ff0000" stroke-width="2" stroke-dasharray="26.1 26" stroke-dashoffset="29.38"/>
<line x1="609.49" y1="1449.2" x2="669.48" y2="1213.21" stroke="#ff0000" stroke-opacity="0.3" stroke-width="2" stroke-dasharray="0 33.84 1.55 7.43 1.55 7.74" stroke-dashoffset="29.38"/>
<line x1="669.48" y1="1213.21" x2="909.44" y2="1238.85" stroke="#ff0000" stroke-width="2" stroke-dasharray="25.44 25.34" stroke-dashoffset="12.03"/>
<line x1="669.48" y1="1213.21" x2="909.44" y2="1238.85" stroke="#ff0000" stroke-opacity="0.3" stroke-width="2" stroke-dasharray="0 32.99 1.51 7.24 1.51 7.54" stroke-dashoffset="12.03"/>
<path d="M421.22 1453.8L437.82 1453.8L429.52 1440Z" fill="#ff0000" stroke="#000" stroke-width="1.45"/>
<path d="M541.2 1453.8L557.8 1453.8L549.5 1440Z" fill="#ff0000" stroke="#000" stroke-width="1.45"/>
<path d="M566.91 1453.8L583.51 1453.8L575.21 1440Z" fill="#ff0000" stroke="#000" stroke-width="1.45"/>
<path d="M601.19 1453.8L617.79 1453.8L609.49 1440Z" fill="#ff0000" stroke="#000" stroke-width="1.45"/>
<path d="M661.18 1217.81L677.78 1217.81L669.48 1204.01Z" fill="#ff0000" stroke="#000" stroke-width="1.45"/>
<path d="M901.14 1243.45L917.74 1243.45L909.44 1229.65Z" fill="#ff0000" stroke="#000" stroke-width="1.45"/>
<rect x="546.2" y="1056.3" width="3.6" height="79.2" fill="#002060"/><path d="M536.7 1134.5L559.3 1134.5L548 1156.3Z" fill="#002060"/>
<text transform="translate(682.4 1608.3) scale(1 1.04)" font-size="32" font-weight="bold" text-anchor="middle">Days</text>
<text transform="translate(273.1 1203.1) rotate(-90) scale(1 1.04)" font-size="32.29" font-weight="bold" text-anchor="middle">Anti-Zika neutralising antibody (IU/mL)</text>
<text transform="translate(70.2 893.3) scale(1 1.04)" font-size="46" font-weight="bold" text-anchor="start">c)</text>
</g>
<!-- legend -->
<g>
<rect x="1202.7" y="996" width="285.2" height="330" fill="#fff" stroke="#000" stroke-width="2.4"/>
<path d="M1223.9 1033.4 L1375.4 1033.4" fill="none" stroke="#008000" stroke-width="2"/>
<circle cx="1299.4" cy="1033.4" r="7.8" fill="#008000" stroke="#000" stroke-width="1.45"/>
<text transform="translate(1412.8 1043.7) scale(1 1.04)" font-size="29.2" font-weight="normal" text-anchor="start">R1</text>
<line x1="1223.9" y1="1069.97" x2="1375.4" y2="1069.97" stroke="#008000" stroke-opacity="0.24" stroke-width="2" stroke-dasharray="1.5 7" stroke-dashoffset="0"/>
<line x1="1223.9" y1="1069.97" x2="1375.4" y2="1069.97" stroke="#2a1818" stroke-opacity="0.85" stroke-width="1.6" stroke-dasharray="1.6 40.9" stroke-dashoffset="0"/>
<path d="M1291.1 1065.37L1307.7 1065.37L1299.4 1079.17Z" fill="#008000" stroke="#000" stroke-width="1.45"/>
<text transform="translate(1412.8 1080.27) scale(1 1.04)" font-size="29.2" font-weight="normal" text-anchor="start">R2</text>
<line x1="1223.9" y1="1106.54" x2="1375.4" y2="1106.54" stroke="#008000" stroke-width="2" stroke-dasharray="19.7 7.6" stroke-dashoffset="0"/>
<rect x="1292.4" y="1099.54" width="14" height="14" fill="#008000" stroke="#000" stroke-width="1.45"/>
<text transform="translate(1412.8 1116.84) scale(1 1.04)" font-size="29.2" font-weight="normal" text-anchor="start">R3</text>
<line x1="1223.9" y1="1143.11" x2="1375.4" y2="1143.11" stroke="#008000" stroke-width="2" stroke-dasharray="25.3 25.2" stroke-dashoffset="0"/>
<line x1="1223.9" y1="1143.11" x2="1375.4" y2="1143.11" stroke="#008000" stroke-opacity="0.3" stroke-width="2" stroke-dasharray="0 32.8 1.5 7.2 1.5 7.5" stroke-dashoffset="0"/>
<path d="M1299.4 1133.41L1309.1 1143.11L1299.4 1152.81L1289.7 1143.11Z" fill="#008000" stroke="#000" stroke-width="1.45"/>
<text transform="translate(1412.8 1153.41) scale(1 1.04)" font-size="29.2" font-weight="normal" text-anchor="start">R4</text>
<path d="M1223.9 1179.68 L1375.4 1179.68" fill="none" stroke="#ff0000" stroke-width="2"/>
<circle cx="1299.4" cy="1179.68" r="7.8" fill="#ff0000" stroke="#000" stroke-width="1.45"/>
<text transform="translate(1412.8 1189.98) scale(1 1.04)" font-size="29.2" font-weight="normal" text-anchor="start">R5</text>
<line x1="1223.9" y1="1216.25" x2="1375.4" y2="1216.25" stroke="#ff0000" stroke-opacity="0.24" stroke-width="2" stroke-dasharray="1.5 7" stroke-dashoffset="0"/>
<line x1="1223.9" y1="1216.25" x2="1375.4" y2="1216.25" stroke="#2a1818" stroke-opacity="0.85" stroke-width="1.6" stroke-dasharray="1.6 40.9" stroke-dashoffset="0"/>
<circle cx="1299.4" cy="1216.25" r="7.8" fill="#ff0000" stroke="#000" stroke-width="1.45"/>
<text transform="translate(1412.8 1226.55) scale(1 1.04)" font-size="29.2" font-weight="normal" text-anchor="start">R11</text>
<line x1="1223.9" y1="1252.82" x2="1375.4" y2="1252.82" stroke="#ff0000" stroke-width="2" stroke-dasharray="19.7 7.6" stroke-dashoffset="0"/>
<path d="M1291.1 1248.22L1307.7 1248.22L1299.4 1262.02Z" fill="#ff0000" stroke="#000" stroke-width="1.45"/>
<text transform="translate(1412.8 1263.12) scale(1 1.04)" font-size="29.2" font-weight="normal" text-anchor="start">R12</text>
<line x1="1223.9" y1="1289.39" x2="1375.4" y2="1289.39" stroke="#ff0000" stroke-width="2" stroke-dasharray="25.3 25.2" stroke-dashoffset="0"/>
<line x1="1223.9" y1="1289.39" x2="1375.4" y2="1289.39" stroke="#ff0000" stroke-opacity="0.3" stroke-width="2" stroke-dasharray="0 32.8 1.5 7.2 1.5 7.5" stroke-dashoffset="0"/>
<path d="M1291.1 1293.99L1307.7 1293.99L1299.4 1280.19Z" fill="#ff0000" stroke="#000" stroke-width="1.45"/>
<text transform="translate(1412.8 1299.69) scale(1 1.04)" font-size="29.2" font-weight="normal" text-anchor="start">R13</text>
</g>
</svg>
</body>
</html>
